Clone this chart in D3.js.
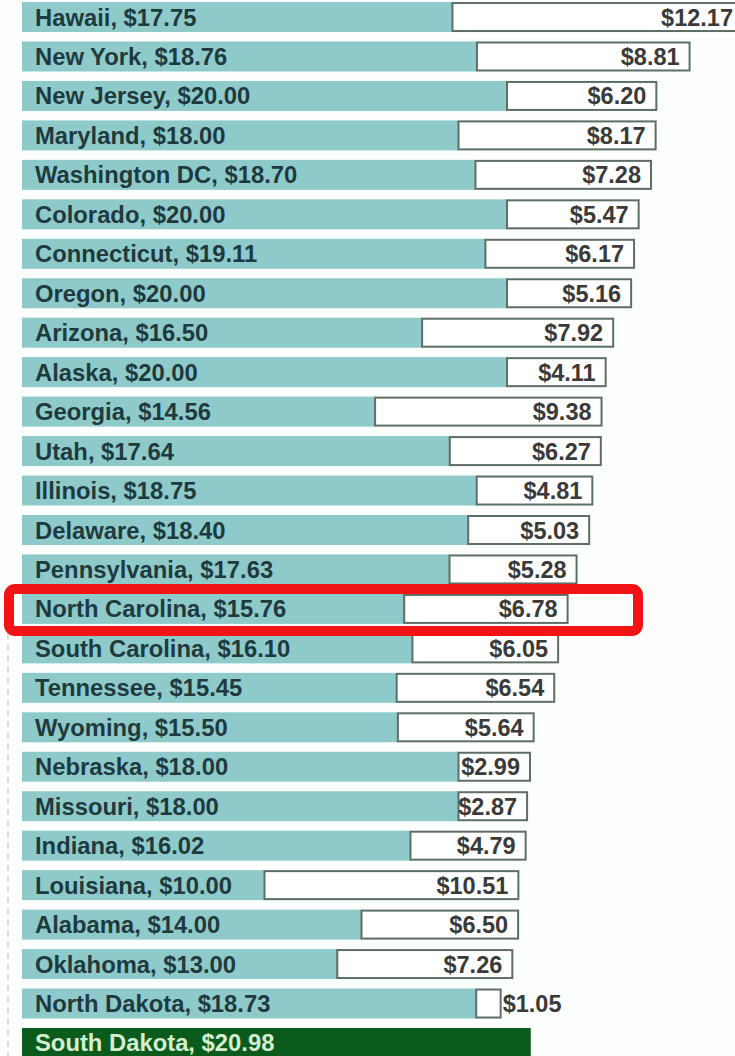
<!DOCTYPE html>
<html>
<head>
<meta charset="utf-8">
<script src="https://cdn.jsdelivr.net/npm/d3@7/dist/d3.min.js"></script>
<style>
  html, body { margin: 0; padding: 0; background: #fcfefe; }
  svg { display: block; }
</style>
</head>
<body>
<svg id="chart" width="735" height="1056"></svg>
<script>
// States ordered as shown, with their wage and the gap above it
const states = ["Hawaii", "New York", "New Jersey", "Maryland", "Washington DC", "Colorado",
  "Connecticut", "Oregon", "Arizona", "Alaska", "Georgia", "Utah", "Illinois", "Delaware",
  "Pennsylvania", "North Carolina", "South Carolina", "Tennessee", "Wyoming", "Nebraska",
  "Missouri", "Indiana", "Louisiana", "Alabama", "Oklahoma", "North Dakota", "South Dakota"];
const wages = [17.75, 18.76, 20.00, 18.00, 18.70, 20.00, 19.11, 20.00, 16.50, 20.00, 14.56,
  17.64, 18.75, 18.40, 17.63, 15.76, 16.10, 15.45, 15.50, 18.00, 18.00, 16.02, 10.00, 14.00,
  13.00, 18.73, 20.98];
const gaps = [12.17, 8.81, 6.20, 8.17, 7.28, 5.47, 6.17, 5.16, 7.92, 4.11, 9.38, 6.27, 4.81,
  5.03, 5.28, 6.78, 6.05, 6.54, 5.64, 2.99, 2.87, 4.79, 10.51, 6.50, 7.26, 1.05, 0];
const reference = "South Dakota";
const highlighted = "North Carolina";

const rows = states.map((s, i) => ({ state: s, wage: wages[i], gap: gaps[i] }));

const W = 735;
const svg = d3.select("#chart");
const fmt = d3.format("$.2f");

const x = d3.scaleLinear().domain([0, 30]).range([22, 749.5]);
const y = d3.scaleBand().domain(states).range([-2.7, 1062.7])
  .paddingInner(0.24).paddingOuter(0.12);

const FONT = "'Liberation Sans', Arial, sans-serif";

// faint dashed guide on the left
svg.append("line")
  .attr("x1", 8).attr("x2", 8)
  .attr("y1", y("South Carolina")).attr("y2", 1056)
  .attr("stroke", "#dccaca").attr("stroke-width", 1.5)
  .attr("stroke-dasharray", "6 5");

const g = svg.append("g");

// wage bars
g.selectAll("rect.wage").data(rows).join("rect")
  .attr("class", "wage")
  .attr("x", x(0))
  .attr("y", d => y(d.state))
  .attr("width", d => x(d.wage) - x(0))
  .attr("height", y.bandwidth())
  .attr("fill", d => d.state === reference ? "#0b5c1c" : "#8fcaca");

// gap boxes
const gapRows = rows.filter(d => d.gap > 0);
g.selectAll("rect.gap").data(gapRows).join("rect")
  .attr("class", "gap")
  .attr("x", d => x(d.wage))
  .attr("y", d => y(d.state) + 1)
  .attr("width", d => x(d.wage + d.gap) - x(d.wage) - 1)
  .attr("height", y.bandwidth() - 2)
  .attr("fill", "#ffffff")
  .attr("stroke", "#5d6f64")
  .attr("stroke-width", 2);

// state labels inside wage bars
g.selectAll("text.state").data(rows).join("text")
  .attr("class", "state")
  .attr("x", x(0) + 13)
  .attr("y", d => y(d.state) + y.bandwidth() / 2 + 8.5)
  .attr("font-family", FONT)
  .attr("font-weight", "bold")
  .attr("font-size", 23.8)
  .attr("fill", d => d.state === reference ? "#d3eed2" : "#1e3a3f")
  .text(d => `${d.state}, ${fmt(d.wage)}`);

// gap values, right-aligned in the box, or just outside when the box is narrow
g.selectAll("text.gap").data(gapRows).join("text")
  .attr("class", "gap")
  .attr("font-family", FONT)
  .attr("font-weight", "bold")
  .attr("font-size", 23.5)
  .attr("fill", "#3a3a3a")
  .attr("y", d => y(d.state) + y.bandwidth() / 2 + 8.5)
  .each(function (d) {
    const w = x(d.wage + d.gap) - x(d.wage);
    const t = d3.select(this).text(fmt(d.gap));
    if (w < 60) {
      t.attr("x", x(d.wage + d.gap) + 1).attr("text-anchor", "start");
    } else {
      t.attr("x", Math.min(x(d.wage + d.gap) - 11, W - 2)).attr("text-anchor", "end");
    }
  });

// red outline around the highlighted state
svg.append("rect")
  .attr("x", 9)
  .attr("y", y(highlighted) - 5)
  .attr("width", 629)
  .attr("height", y.bandwidth() + 12)
  .attr("rx", 6)
  .attr("fill", "none")
  .attr("stroke", "#f21414")
  .attr("stroke-width", 10);
</script>
</body>
</html>
